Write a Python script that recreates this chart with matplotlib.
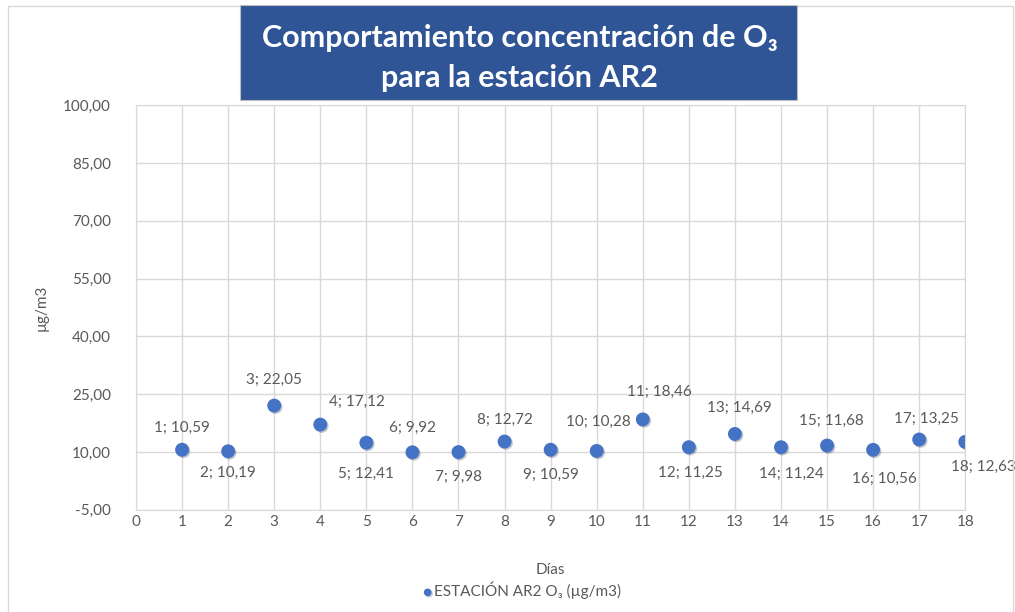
import matplotlib
matplotlib.use("Agg")
import matplotlib.pyplot as plt
import matplotlib.patheffects as pe
from matplotlib.patches import Rectangle

# daily O3 concentration, station AR2
dias = [1, 2, 3, 4, 5, 6, 7, 8, 9, 10, 11, 12, 13, 14, 15, 16, 17, 18]
o3 = [10.59, 10.19, 22.05, 17.12, 12.41, 9.92, 9.98, 12.72, 10.59, 10.28,
      18.46, 11.25, 14.69, 11.24, 11.68, 10.56, 13.25, 12.63]
y_ticks = [-5, 10, 25, 40, 55, 70, 85, 100]
x_ticks = list(range(0, 19))

# pixel offsets of each data label relative to its point
label_offsets = [(0, 22), (0, -22), (0, 26), (37, 23), (0, -31), (0, 24),
                 (0, -25), (0, 22), (0, -25), (2, 29), (17, 28), (2, -26),
                 (4, 26), (10, -27), (4, 25), (11, -29), (7, 21), (18, -25)]

FONT = ["Lato", "DejaVu Sans"]
plt.rcParams["font.family"] = FONT
GRAY = "#595959"
BLUE = "#4472C4"


def fmt(v):
    return f"{v:.2f}".replace(".", ",")


fig = plt.figure(figsize=(10.15, 6.12), dpi=100)
ax = fig.add_axes([0.134, 0.167, 0.817, 0.661])

ax.scatter(dias, o3, s=100, color=BLUE, zorder=3, linewidths=0,
           path_effects=[pe.SimplePatchShadow(offset=(1, -1), alpha=0.25),
                         pe.Normal()])

for x, y, (dx, dy) in zip(dias, o3, label_offsets):
    ax.annotate(f"{x}; {fmt(y)}", (x, y), xytext=(dx, dy),
                textcoords="offset pixels", ha="center", va="center",
                fontsize=11, color=GRAY, annotation_clip=False)

ax.set_xlim(0, 18)
ax.set_ylim(-5, 100)
ax.set_xticks(x_ticks)
ax.set_yticks(y_ticks)
ax.set_yticklabels([fmt(t) for t in y_ticks])
ax.tick_params(length=0, labelsize=11, labelcolor=GRAY)
ax.tick_params(axis="y", pad=18)
ax.tick_params(axis="x", pad=4)
ax.grid(True, color="#D9D9D9", linewidth=1)
ax.set_axisbelow(True)
for s in ax.spines.values():
    s.set_color("#D9D9D9")

ax.set_ylabel("µg/m3", fontsize=11, color=GRAY, labelpad=8)
ax.yaxis.set_label_coords(-0.105, 0.5)
ax.set_xlabel("Días", fontsize=11, color=GRAY, labelpad=24)

# legend under the x axis label
fig.legend(handles=[ax.collections[0]], labels=["ESTACIÓN AR2 O₃ (µg/m3)"],
           loc="center", bbox_to_anchor=(0.512, 0.035), frameon=False,
           fontsize=11, labelcolor=GRAY, handletextpad=-0.2, handlelength=1.2,
           markerscale=0.55)

# outer chart border
fig.add_artist(Rectangle((0.008, -0.01), 0.99, 1.0, transform=fig.transFigure,
                         fill=False, edgecolor="#D9D9D9", linewidth=1))

# title box
fig.add_artist(Rectangle((240 / 1015, 1 - 100 / 612), 557 / 1015, 95 / 612,
                         transform=fig.transFigure, facecolor="#2F5597",
                         edgecolor="#BFBFBF", linewidth=0.8))
fig.text(0.512, 0.905, "Comportamiento concentración de O₃\npara la estación AR2",
         ha="center", va="center", color="white", fontsize=22,
         fontweight="bold", linespacing=1.5, family=FONT)

fig.savefig("out.png", dpi=100)
